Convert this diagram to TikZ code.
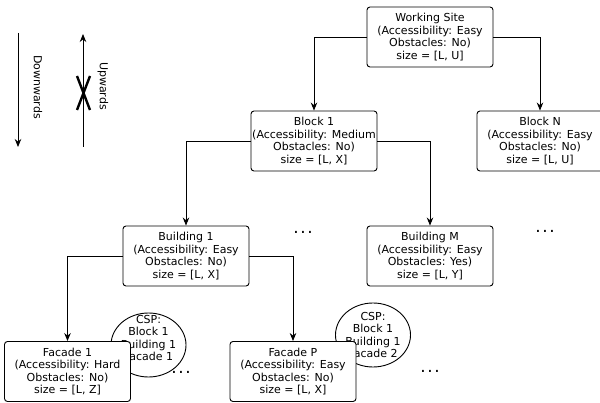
\documentclass[tikz,border=0pt]{standalone}
\usepackage{fontspec}
\setmainfont{DejaVu Sans}
\usetikzlibrary{arrows.meta,shapes.geometric}
\newcommand{\mydots}{.\kern1.6pt.\kern1.6pt.}
\begin{document}
\begin{tikzpicture}[x=1pt,y=-1pt,
  box/.style={draw, rounded corners=3pt, fill=white, minimum width=126pt, minimum height=60pt, align=center, font=\fontsize{11}{12.4}\selectfont, inner sep=0pt, line width=0.9pt},
  conn/.style={line width=0.9pt, -{Stealth[length=8pt,width=6.5pt]}},
  csp/.style={draw, ellipse, minimum width=75pt, minimum height=64pt, inner sep=0pt, line width=0.9pt},
  txt/.style={align=center, font=\fontsize{11}{12.4}\selectfont, inner sep=0pt},
  dotsnode/.style={font=\fontsize{17}{20}\selectfont, inner sep=0pt},
  cross/.style={line width=2.4pt}
]
\fill[white] (0,0) rectangle (600,403);
\useasboundingbox (0,0) rectangle (600,403);

% legend
\coordinate (dtop) at (18,33);
\coordinate (dbot) at (18,147);
\draw[conn] (dtop) -- (dbot);
\node[txt, rotate=-90] (down) at (38,87) {Downwards};
\coordinate (ubot) at (83,147);
\coordinate (utop) at (83,34);
\draw[conn] (ubot) -- (utop);
\coordinate (xa) at (77,76);
\coordinate (xb) at (90,110);
\coordinate (xc) at (90,76);
\coordinate (xd) at (77,110);
\draw[cross] (xa) -- (xb);
\draw[cross] (xc) -- (xd);
\node[txt, rotate=-90] (up) at (103,86) {Upwards};

% CSP ellipses (behind boxes)
\node[csp] (csp1) at (148.5,345) {};
\node[txt] (csp1t) at (148.5,338) {CSP:\\Block 1\\Building 1\\Facade 1};
\node[csp] (csp2) at (373,335) {};
\node[txt] (csp2t) at (373,335) {CSP:\\Block 1\\Building 1\\Facade 2};

% boxes
\node[box] (ws) at (430,37) {Working Site\\(Accessibility: Easy\\Obstacles: No)\\size = [L, U]};
\node[box] (b1) at (314,141) {Block 1\\(Accessibility: Medium\\Obstacles: No)\\size = [L, X]};
\node[box] (bN) at (540,141) {Block N\\(Accessibility: Easy\\Obstacles: No)\\size = [L, U]};
\node[box] (bd1) at (186,256) {Building 1\\(Accessibility: Easy\\Obstacles: No)\\size = [L, X]};
\node[box] (bdM) at (430,256) {Building M\\(Accessibility: Easy\\Obstacles: Yes)\\size = [L, Y]};
\node[box] (f1) at (67.5,371.5) {Facade 1\\(Accessibility: Hard\\Obstacles: No)\\size = [L, Z]};
\node[box] (fP) at (293,371.5) {Facade P\\(Accessibility: Easy\\Obstacles: No)\\size = [L, X]};

% connectors
\draw[conn] (ws.west) -| (b1.north);
\draw[conn] (ws.east) -| (bN.north);
\draw[conn] (b1.west) -| (bd1.north);
\draw[conn] (b1.east) -| (bdM.north);
\draw[conn] (bd1.west) -| (f1.north);
\draw[conn] (bd1.east) -| (fP.north);

% dots
\node[dotsnode] (d1) at (303,232) {\mydots};
\node[dotsnode] (d2) at (545,231) {\mydots};
\node[dotsnode] (d3) at (181,372) {\mydots};
\node[dotsnode] (d4) at (430,371) {\mydots};
\end{tikzpicture}
\end{document}
